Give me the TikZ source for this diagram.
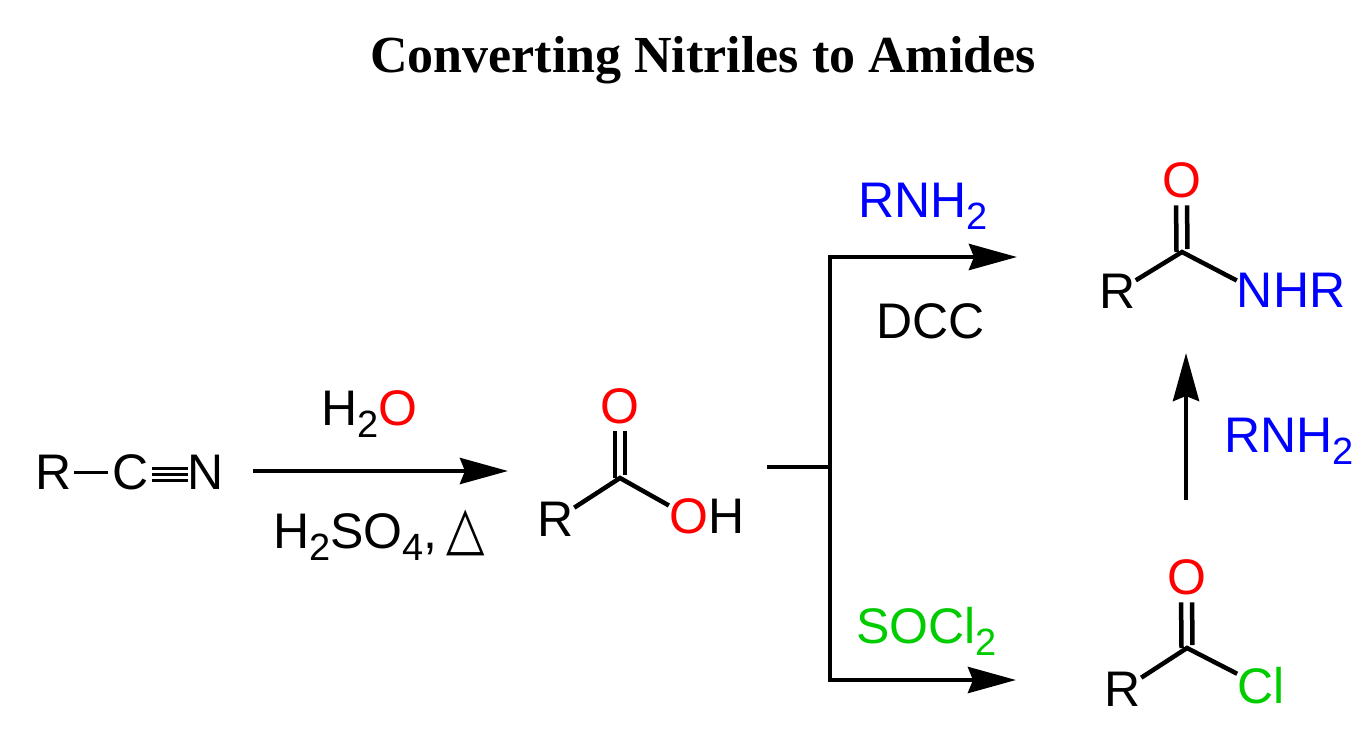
\documentclass[tikz,border=0pt]{standalone}
\usepackage{graphicx}
\usepackage{fontspec}
\setmainfont{Liberation Sans}
\newfontfamily\titlefont{Liberation Serif}
\newfontfamily\symfont{DejaVu Sans}
\usetikzlibrary{arrows.meta}
\definecolor{clgreen}{RGB}{0,204,0}
\newcommand{\chemsub}[1]{\raisebox{-12pt}{\fontsize{38}{38}\selectfont #1}}

\begin{document}
\begin{tikzpicture}[x=1pt,y=-1pt,
    atom/.style={font=\fontsize{50}{60}\selectfont},
    reagent/.style={font=\fontsize{50}{60}\selectfont,anchor=base west},
    bond/.style={line width=4.5pt},
    thinbond/.style={line width=2.5pt},
    dblbond/.style={line width=4.5pt,shorten >=7pt},
    rxnarrow/.style={line width=4.5pt,-{Stealth[length=48pt,width=26pt,inset=5pt]}}]
  \tikzstyle{every node}+=[inner sep=0pt]
  \useasboundingbox (0,0) rectangle (1365,739);

  \node[anchor=base] (title) at (703,72) {\titlefont\bfseries\fontsize{52}{60}\selectfont Converting Nitriles to Amides};

  \node[atom] (nit_r) at (53.5,472.5) {R};
  \node[atom] (nit_c) at (131,472.5) {C};
  \node[atom] (nit_n) at (206,472.5) {N};
  \draw[thinbond,shorten <=2pt,shorten >=5pt] (nit_r) -- (nit_c);
  \draw[thinbond,shorten <=3pt] ([yshift=-2pt]nit_c.east) -- ([yshift=-2pt]nit_n.west);
  \draw[thinbond,shorten <=3pt] ([yshift=4pt]nit_c.east) -- ([yshift=4pt]nit_n.west);
  \draw[thinbond,shorten <=3pt] ([yshift=-8pt]nit_c.east) -- ([yshift=-8pt]nit_n.west);

  \coordinate (hyd_s) at (253,471);
  \coordinate (hyd_e) at (508,471);
  \draw[rxnarrow] (hyd_s) -- (hyd_e);
  \node[reagent] (h2o) at (321,425) {H\chemsub{2}\textcolor{red}{O}};
  \node[reagent] (h2so4) at (273,548) {H\chemsub{2}SO\chemsub{4},\hspace{9pt}{\symfont\fontsize{50}{50}\selectfont\scalebox{1}[1.2]{△}}};

  \coordinate (ac_c) at (620,478);
  \node[atom,text=red] (ac_o) at (620,406.5) {O};
  \node[atom] (ac_r) at (556,519.5) {R};
  \node[atom,text=red] (ac_oh) at (688.5,516.5) {O};
  \node[atom,anchor=west] (ac_h) at (ac_oh.east) {H};
  \draw[bond] (ac_r) -- (ac_c) -- (ac_oh);
  \draw[dblbond] ([xshift=-5pt]ac_c) -- ([xshift=-5pt]ac_o.south);
  \draw[dblbond,shorten <=3pt] ([xshift=5pt]ac_c) -- ([xshift=5pt]ac_o.south);

  \coordinate (br_in) at (767,467);
  \coordinate (br_mid) at (830,467);
  \coordinate (br_top) at (830,257);
  \coordinate (br_bot) at (830,680);
  \coordinate (amd_e) at (1017,257);
  \coordinate (acl_e) at (1016,680);
  \draw[line width=4.5pt] (br_in) -- (br_mid);
  \draw[line width=4.5pt] ([yshift=2.25pt]br_top) -- ([yshift=-2.25pt]br_bot);
  \draw[rxnarrow] (br_top) -- (amd_e);
  \draw[rxnarrow] (br_bot) -- (acl_e);
  \node[reagent,text=blue] (rnh2_a) at (858,217) {RNH\chemsub{2}};
  \node[reagent] (dcc) at (876,338) {DCC};
  \node[reagent,text=clgreen] (socl2) at (856,643) {SOCl\chemsub{2}};

  \coordinate (amd_c) at (1182,252);
  \node[atom,text=red] (amd_o) at (1181.5,180.5) {O};
  \node[atom] (amd_r) at (1117.5,291.5) {R};
  \node[atom,text=blue] (amd_n) at (1255,290) {N};
  \node[atom,text=blue,anchor=west] (amd_hr) at (amd_n.east) {HR};
  \draw[bond] (amd_r) -- (amd_c) -- (amd_n);
  \draw[dblbond] ([xshift=-5.5pt]amd_c) -- ([xshift=-5.5pt]amd_o.south);
  \draw[dblbond,shorten <=3pt] ([xshift=5.5pt]amd_c) -- ([xshift=5.5pt]amd_o.south);

  \coordinate (acl_c) at (1187,648);
  \node[atom,text=red] (acl_o) at (1186.5,577.5) {O};
  \node[atom] (acl_r) at (1123,689.5) {R};
  \node[atom,text=clgreen] (acl_cl) at (1261,686) {Cl};
  \draw[bond] (acl_r) -- (acl_c) -- (acl_cl);
  \draw[dblbond] ([xshift=-5.5pt]acl_c) -- ([xshift=-5.5pt]acl_o.south);
  \draw[dblbond,shorten <=3pt] ([xshift=5.5pt]acl_c) -- ([xshift=5.5pt]acl_o.south);

  \coordinate (amn_s) at (1186,500);
  \coordinate (amn_e) at (1186,353);
  \draw[rxnarrow] (amn_s) -- (amn_e);
  \node[reagent,text=blue] (rnh2_b) at (1224,452) {RNH\chemsub{2}};
\end{tikzpicture}
\end{document}
